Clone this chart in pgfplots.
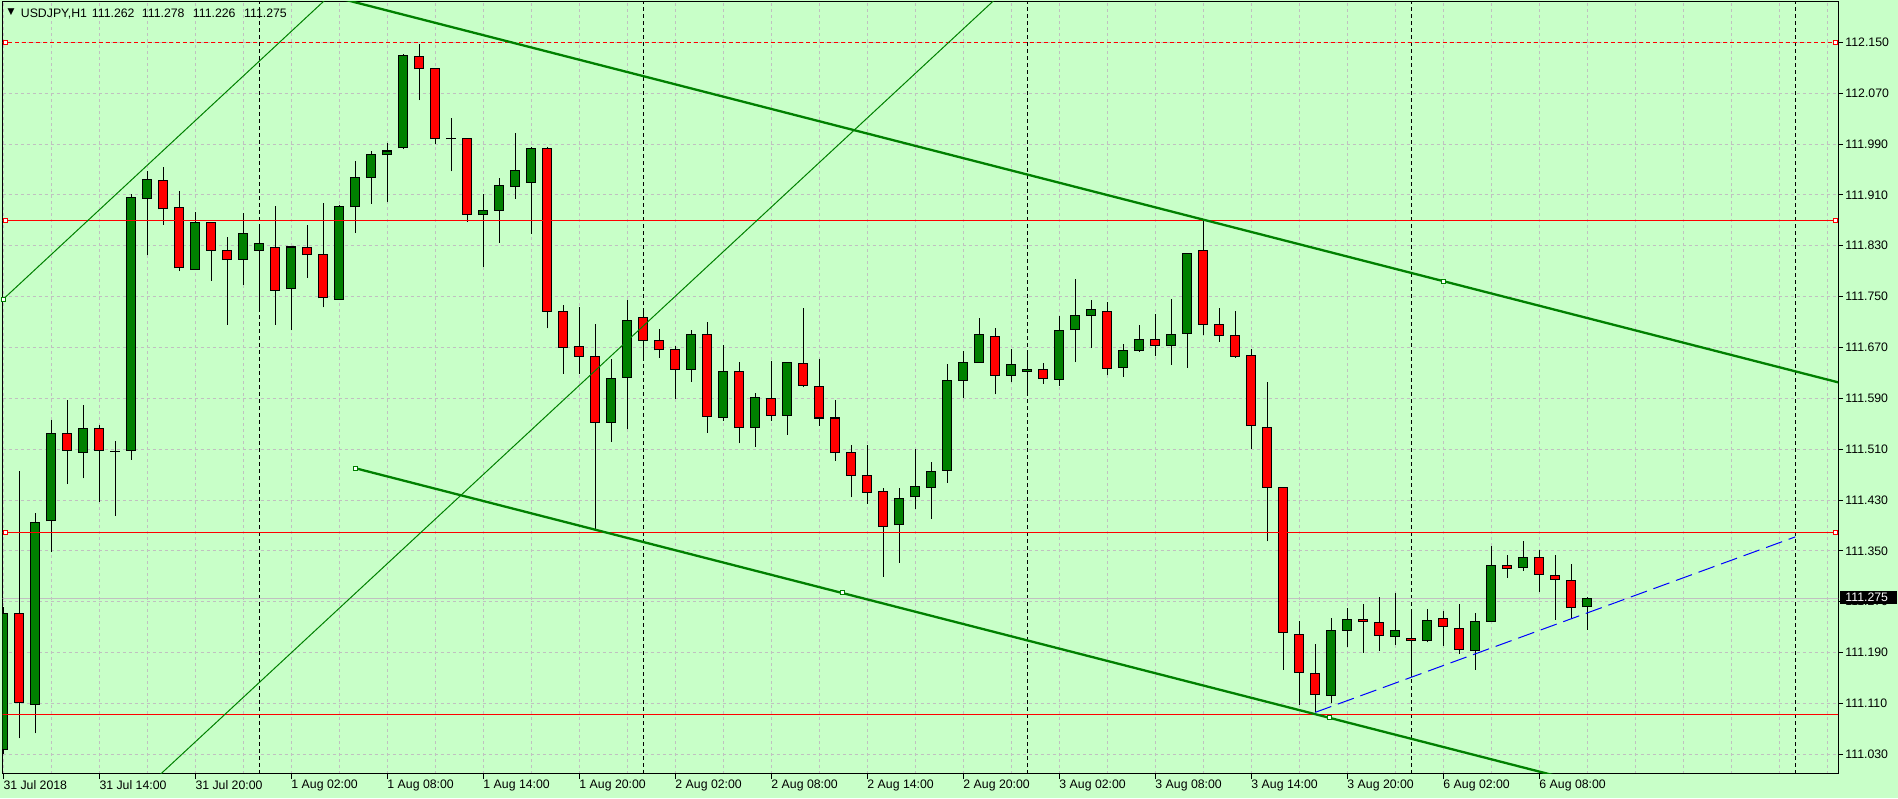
\documentclass[border=0pt]{standalone}
\usepackage{fontspec}
\setmainfont{Liberation Sans}
\newfontfamily\dejavu{DejaVu Sans}
\usepackage{pgfplots}
\pgfplotsset{compat=1.18}
\usepackage{pgfplotstable}
\definecolor{bg}{RGB}{200,255,200}
\definecolor{gridc}{RGB}{192,192,192}
\definecolor{mtgreen}{RGB}{0,128,0}

\pgfplotstableread{
x o h l c
0 111.037 111.262 111.030 111.251
2 111.109 111.410 111.063 111.395
3 111.397 111.556 111.348 111.534
5 111.505 111.580 111.464 111.542
7 111.507 111.523 111.405 111.507
8 111.508 111.912 111.493 111.906
9 111.904 111.948 111.815 111.934
12 111.793 111.883 111.792 111.867
15 111.809 111.881 111.769 111.850
16 111.823 111.863 111.727 111.833
18 111.762 111.829 111.697 111.828
21 111.746 111.894 111.746 111.891
22 111.891 111.964 111.850 111.937
23 111.938 111.979 111.896 111.973
24 111.973 111.992 111.898 111.979
25 111.984 112.131 111.982 112.130
28 111.998 112.031 111.947 111.998
30 111.879 111.911 111.797 111.886
31 111.886 111.937 111.835 111.925
32 111.923 112.007 111.904 111.949
33 111.930 111.985 111.849 111.983
38 111.552 111.652 111.522 111.621
39 111.623 111.745 111.541 111.713
43 111.636 111.697 111.616 111.691
45 111.560 111.674 111.555 111.632
47 111.544 111.599 111.514 111.592
49 111.563 111.647 111.533 111.646
56 111.391 111.449 111.331 111.433
57 111.435 111.511 111.416 111.452
58 111.450 111.490 111.400 111.475
59 111.477 111.644 111.457 111.618
60 111.618 111.665 111.591 111.646
61 111.646 111.717 111.646 111.690
63 111.626 111.667 111.615 111.643
64 111.632 111.665 111.596 111.635
66 111.620 111.720 111.610 111.697
67 111.698 111.778 111.647 111.720
68 111.720 111.745 111.669 111.730
70 111.639 111.675 111.624 111.665
71 111.665 111.706 111.663 111.683
73 111.673 111.746 111.643 111.691
74 111.692 111.818 111.638 111.818
83 111.123 111.244 111.110 111.225
84 111.225 111.260 111.199 111.242
87 111.215 111.284 111.202 111.225
89 111.209 111.258 111.206 111.241
92 111.193 111.253 111.163 111.239
93 111.239 111.357 111.239 111.327
95 111.324 111.365 111.319 111.340
99 111.262 111.278 111.226 111.275
}\bull

\pgfplotstableread{
x o h l c
1 111.252 111.476 111.055 111.112
4 111.534 111.587 111.455 111.508
6 111.542 111.548 111.427 111.508
10 111.933 111.954 111.863 111.888
11 111.890 111.916 111.790 111.795
13 111.867 111.868 111.775 111.823
14 111.823 111.843 111.706 111.808
17 111.827 111.893 111.706 111.760
19 111.827 111.863 111.780 111.816
20 111.816 111.897 111.733 111.748
26 112.127 112.147 112.059 112.108
27 112.109 112.110 111.990 111.998
29 111.998 112.000 111.868 111.879
34 111.983 111.985 111.700 111.727
35 111.727 111.737 111.629 111.670
36 111.672 111.734 111.629 111.656
37 111.656 111.707 111.383 111.552
40 111.717 111.725 111.653 111.681
41 111.681 111.699 111.654 111.666
42 111.666 111.673 111.589 111.636
44 111.690 111.710 111.536 111.562
46 111.632 111.647 111.519 111.544
48 111.590 111.649 111.555 111.563
50 111.645 111.732 111.607 111.610
51 111.609 111.652 111.547 111.559
52 111.559 111.587 111.492 111.504
53 111.504 111.516 111.434 111.469
54 111.469 111.516 111.424 111.442
55 111.444 111.449 111.309 111.388
62 111.687 111.701 111.596 111.626
65 111.635 111.646 111.613 111.621
69 111.726 111.741 111.626 111.637
72 111.683 111.722 111.656 111.673
75 111.823 111.870 111.689 111.706
76 111.706 111.732 111.679 111.689
77 111.689 111.728 111.654 111.656
78 111.658 111.667 111.511 111.547
79 111.544 111.615 111.365 111.450
80 111.450 111.450 111.163 111.222
81 111.219 111.239 111.108 111.159
82 111.157 111.204 111.096 111.124
85 111.242 111.266 111.190 111.239
86 111.238 111.277 111.193 111.217
88 111.212 111.253 111.152 111.209
90 111.244 111.255 111.201 111.231
91 111.228 111.266 111.188 111.195
94 111.327 111.344 111.308 111.322
96 111.340 111.352 111.286 111.313
97 111.311 111.343 111.242 111.305
98 111.303 111.329 111.245 111.261
}\bear

\pgfplotsset{
  candle/.style 2 args={draw=none, mark=none, forget plot,
    error bars/y dir=plus, error bars/y explicit, error bars/error mark=none,
    error bars/error bar style={draw=#1, solid, line width=#2}},
}

\begin{document}
\begin{tikzpicture}[x=1pt,y=1pt,font=\fontsize{12.3}{14}\selectfont]
\fill[bg] (0,0) rectangle (1898,798);
\begin{axis}[
  at={(2.7pt,24pt)}, anchor=south west,
  width=1835.3pt, height=772pt, scale only axis,
  xmin=-0.0375, xmax=114.67, ymin=110.999, ymax=112.2134,
  axis line style={black, line width=1pt},
  tick style={black, line width=1pt},
  tick align=outside,
  major tick length=5pt,
  minor tick length=0pt,
  xtick pos=bottom, ytick pos=right, yticklabel pos=right,
  xtick={0,6,...,96},
  xticklabels={31 Jul 2018,31 Jul 14:00,31 Jul 20:00,1 Aug 02:00,1 Aug 08:00,1 Aug 14:00,1 Aug 20:00,2 Aug 02:00,2 Aug 08:00,2 Aug 14:00,2 Aug 20:00,3 Aug 02:00,3 Aug 08:00,3 Aug 14:00,3 Aug 20:00,6 Aug 02:00,6 Aug 08:00},
  minor xtick={0,3,...,114},
  ytick={111.030,111.110,111.190,111.270,111.350,111.430,111.510,111.590,111.670,111.750,111.830,111.910,111.990,112.070,112.150},
  xminorgrids=true, ymajorgrids=true, xmajorgrids=false,
  major grid style={gridc, line width=1pt, dash pattern=on 3pt off 3pt},
  minor grid style={gridc, line width=1pt, dash pattern=on 3pt off 3pt},
  xticklabel style={anchor=north west, inner sep=0pt, yshift=-1pt, font=\fontsize{12.3}{14}\selectfont},
  yticklabel style={anchor=west, inner sep=0pt, xshift=2.2pt, font=\fontsize{12.3}{14}\selectfont,
    /pgf/number format/.cd, fixed, fixed zerofill, precision=3, 1000 sep={}, assume math mode=true},
]
% period separators
\addplot[black, line width=1pt, dash pattern=on 4pt off 3pt] coordinates {(16,110.9) (16,112.3)};
\addplot[black, line width=1pt, dash pattern=on 4pt off 3pt] coordinates {(40,110.9) (40,112.3)};
\addplot[black, line width=1pt, dash pattern=on 4pt off 3pt] coordinates {(64,110.9) (64,112.3)};
\addplot[black, line width=1pt, dash pattern=on 4pt off 3pt] coordinates {(88,110.9) (88,112.3)};
\addplot[black, line width=1pt, dash pattern=on 4pt off 3pt] coordinates {(112,110.9) (112,112.3)};
% bid line
\addplot[gridc, line width=1pt] coordinates {(-1,111.275) (116,111.275)};
% wicks
\addplot[candle={black}{1pt}]
  table[x=x, y=l, y error plus expr={\thisrow{h}-\thisrow{l}}] {\bull};
\addplot[candle={black}{1pt}]
  table[x=x, y=l, y error plus expr={\thisrow{h}-\thisrow{l}}] {\bear};
% body outlines
\addplot[candle={black}{10pt}]
  table[x=x, y expr={\thisrow{o}-0.0008}, y error plus expr={\thisrow{c}-\thisrow{o}+0.0016}] {\bull};
\addplot[candle={black}{10pt}]
  table[x=x, y expr={\thisrow{c}-0.0008}, y error plus expr={\thisrow{o}-\thisrow{c}+0.0016}] {\bear};
% body fills
\addplot[candle={mtgreen}{8pt}]
  table[x=x, y expr={\thisrow{o}+0.0008}, y error plus expr={max(0,\thisrow{c}-\thisrow{o}-0.0016)}] {\bull};
\addplot[candle={red}{8pt}]
  table[x=x, y expr={\thisrow{c}+0.0008}, y error plus expr={max(0,\thisrow{o}-\thisrow{c}-0.0016)}] {\bear};
% horizontal levels
\addplot[red, line width=1pt, dash pattern=on 4pt off 3pt] coordinates {(-1,112.149) (116,112.149)};
\addplot[red, line width=1pt] coordinates {(-1,111.870) (116,111.870)};
\addplot[red, line width=1pt] coordinates {(-1,111.379) (116,111.379)};
\addplot[red, line width=1pt] coordinates {(-1,111.092) (116,111.092)};
\addplot[only marks, mark=square*, mark size=2pt, mark options={draw=red, fill=white, line width=1pt}]
  coordinates {(0.125,112.149) (114.5,112.149) (0.125,111.870) (114.5,111.870) (0.125,111.379) (114.5,111.379)};
% thin green lines
\addplot[mtgreen, line width=1pt] coordinates {(-1,111.7226) (25,112.331)};
\addplot[mtgreen, line width=1pt] coordinates {(9,110.9794) (65,112.288)};
% channel
\addplot[mtgreen, line width=2.3pt] coordinates {(15,112.258) (116,111.6066)};
\addplot[mtgreen, line width=2.3pt] coordinates {(22,111.480) (100,110.977)};
\addplot[only marks, mark=square*, mark size=2pt, mark options={draw=mtgreen, fill=white, line width=1pt}]
  coordinates {(90,111.774) (22,111.480) (52.43,111.284) (82.86,111.0875) (0.04,111.746)};
% blue dashed
\addplot[blue, line width=1pt, dash pattern=on 17pt off 7pt] coordinates {(82,111.096) (112,111.372)};
\end{axis}
% price box
\fill[black] (1840,193.7) rectangle (1896.7,207);
\node[anchor=west, inner sep=0pt, text=white] at (1845.2,200.3) {111.275};
% title
\node[anchor=center, inner sep=0pt] at (11,785.5) {\dejavu\fontsize{9}{10}\selectfont ▼};
\node[anchor=base west, inner sep=0pt] at (20.7,780.7) {USDJPY,H1};
\node[anchor=base west, inner sep=0pt] at (91.7,780.7) {111.262};
\node[anchor=base west, inner sep=0pt] at (141.7,780.7) {111.278};
\node[anchor=base west, inner sep=0pt] at (192.7,780.7) {111.226};
\node[anchor=base west, inner sep=0pt] at (244,780.7) {111.275};
\end{tikzpicture}
\end{document}
